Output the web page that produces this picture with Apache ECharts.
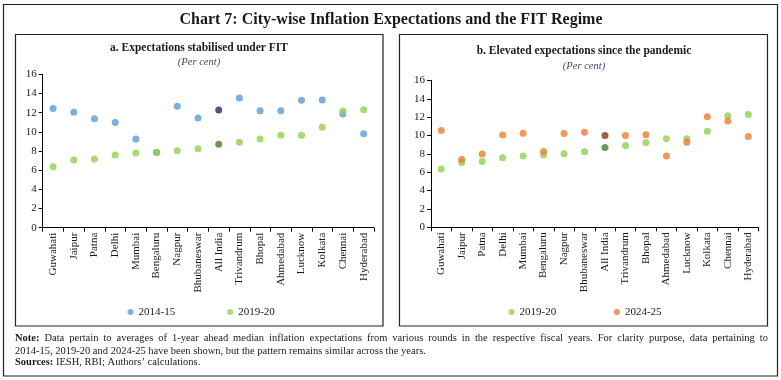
<!DOCTYPE html>
<html><head><meta charset="utf-8">
<script src="https://cdn.jsdelivr.net/npm/echarts@6/dist/echarts.min.js"></script>
<style>html,body{margin:0;padding:0;background:#fff}#c{width:781px;height:380px}</style>
</head><body><div id="c"></div>
<script>
const cities = ['Guwahati','Jaipur','Patna','Delhi','Mumbai','Bengaluru','Nagpur','Bhubaneswar','All India','Trivandrum','Bhopal','Ahmedabad','Lucknow','Kolkata','Chennai','Hyderabad'];
const citiesB = ['Guwahati','Jaipur','Patna','Delhi','Mumbai','Bengaluru','Nagpur','Bhubaneswar','All India','Trivandrum','Bhopal','Ahmedabad','Lucknow','Kolkata','Chennai','Hyderabad'];
const y2014 = [12.42,12.03,11.37,10.96,9.25,7.85,12.66,11.44,12.28,13.53,12.21,12.21,13.29,13.32,11.86,9.81];
const y2019 = [6.35,7.07,7.16,7.57,7.78,7.87,8.02,8.23,8.71,8.92,9.24,9.64,9.65,10.47,12.16,12.29];
const y2024 = [10.56,7.38,8.0,10.05,10.26,8.26,10.23,10.37,10.01,10.01,10.08,7.78,9.28,12.05,11.58,9.9];
const yTicks = [0,2,4,6,8,10,12,14,16];
const labels = {
  title: 'Chart 7: City-wise Inflation Expectations and the FIT Regime',
  a: 'a. Expectations stabilised under FIT',
  b: 'b. Elevated expectations since the pandemic',
  unit: '(Per cent)'
};
const noteLine1 = 'Data pertain to averages of 1-year ahead median inflation expectations from various rounds in the respective fiscal years. For clarity purpose, data pertaining to';
const noteLine2 = '2014-15, 2019-20 and 2024-25 have been shown, but the pattern remains similar across the years.';
const sourcesText = 'IESH, RBI; Authors\u2019 calculations.';

const F = 'Liberation Serif';
const C = {blue:'#5b9bd5', green:'#92d050', orange:'#ed7d31', navy:'#1f2f5a', dgreen:'#4e7d2c', brown:'#843c0c'};

function pts(vals, cats, color, hi) {
  return vals.map((v,i)=> cats[i]==='All India' ? {value:v, itemStyle:{color:hi}} : v);
}
function xAxis(idx, cats){
  return {gridIndex:idx, type:'category', data:cats, boundaryGap:true,
    axisLine:{lineStyle:{color:'#000',width:1}},
    axisTick:{show:true, interval:0, length:4, lineStyle:{color:'#000'}},
    axisLabel:{interval:0, rotate:90, fontFamily:F, fontSize:11, color:'#1a1a1a', margin:5}};
}
function yAxis(idx){
  return {gridIndex:idx, type:'value', min:yTicks[0], max:yTicks[yTicks.length-1], interval:2,
    axisLine:{show:true, lineStyle:{color:'#000'}},
    axisTick:{show:true, length:4, lineStyle:{color:'#000'}},
    splitLine:{show:false},
    axisLabel:{fontFamily:F, fontSize:11, color:'#1a1a1a', margin:6}};
}

// justified first note line
const cv = document.createElement('canvas').getContext('2d');
const noteFont = '10.5px "Liberation Serif"';
const boldFont = 'bold 10.5px "Liberation Serif"';
function justified(prefix, line, x0, x1, y){
  const words = [prefix].concat(line.split(' '));
  const widths = words.map((w,i)=>{cv.font = i===0?boldFont:noteFont; return cv.measureText(w).width;});
  const total = widths.reduce((a,b)=>a+b,0);
  const gap = (x1-x0-total)/(words.length-1);
  const out = []; let x = x0;
  words.forEach((w,i)=>{
    out.push({type:'text', x:x, y:y, silent:true, style:{text:w, font:i===0?boldFont:noteFont, fill:'#1a1a1a', textVerticalAlign:'middle'}});
    x += widths[i] + gap;
  });
  return out;
}

const chart = echarts.init(document.getElementById('c'), null, {renderer:'canvas'});
const sym = 7;
chart.setOption({
  animation:false,
  backgroundColor:'#fff',
  grid:[
    {left:42.7, top:74.3, width:331.3, height:153.4},
    {left:431, top:80.5, width:327.5, height:146.8}
  ],
  xAxis:[xAxis(0,cities), xAxis(1,citiesB)],
  yAxis:[yAxis(0), yAxis(1)],
  legend:[
    {data:['2014-15','2019-20'], left:122.5, top:301.5, icon:'circle', itemWidth:6, itemHeight:6, itemGap:52,
      textStyle:{fontFamily:F, fontSize:11, color:'#1a1a1a'}},
    {data:['2019-20 ','2024-25'], left:503.5, top:301.5, icon:'circle', itemWidth:6, itemHeight:6, itemGap:55,
      textStyle:{fontFamily:F, fontSize:11, color:'#1a1a1a'}}
  ],
  series:[
    {name:'2014-15', type:'scatter', xAxisIndex:0, yAxisIndex:0, symbolSize:sym, color:C.blue, data:pts(y2014,cities,C.blue,C.navy)},
    {name:'2019-20', type:'scatter', xAxisIndex:0, yAxisIndex:0, symbolSize:sym, color:C.green, data:pts(y2019,cities,C.green,C.dgreen)},
    {name:'2019-20 ', type:'scatter', xAxisIndex:1, yAxisIndex:1, symbolSize:sym, color:C.green, data:pts(y2019,citiesB,C.green,C.dgreen)},
    {name:'2024-25', type:'scatter', xAxisIndex:1, yAxisIndex:1, symbolSize:sym, color:C.orange, data:pts(y2024,citiesB,C.orange,C.brown)}
  ],
  graphic:[
    {type:'rect', shape:{x:3.5,y:4.5,width:774,height:371.5}, style:{fill:null, stroke:'#222', lineWidth:1.2}, silent:true},
    {type:'rect', shape:{x:15.5,y:34.5,width:367.5,height:291.5}, style:{fill:null, stroke:'#222', lineWidth:1.2}, silent:true},
    {type:'rect', shape:{x:399.5,y:34.5,width:368,height:291.5}, style:{fill:null, stroke:'#222', lineWidth:1.2}, silent:true},
    {type:'text', x:391, y:20, style:{text:labels.title, font:'bold 16px "Liberation Serif"', fill:'#1a1a1a', textAlign:'center', textVerticalAlign:'middle'}},
    {type:'text', x:199, y:48, style:{text:labels.a, font:'bold 11.5px "Liberation Serif"', fill:'#1a1a1a', textAlign:'center', textVerticalAlign:'middle'}},
    {type:'text', x:199, y:62.5, style:{text:labels.unit, font:'italic 10.5px "Liberation Serif"', fill:'#3b4a6b', textAlign:'center', textVerticalAlign:'middle'}},
    {type:'text', x:584, y:51, style:{text:labels.b, font:'bold 11.5px "Liberation Serif"', fill:'#1a1a1a', textAlign:'center', textVerticalAlign:'middle'}},
    {type:'text', x:584, y:66, style:{text:labels.unit, font:'italic 10.5px "Liberation Serif"', fill:'#3b4a6b', textAlign:'center', textVerticalAlign:'middle'}}
  ].concat(justified('Note:', noteLine1, 15, 768, 338)).concat([
    {type:'text', x:15, y:351, style:{text:noteLine2, font:noteFont, fill:'#1a1a1a', textVerticalAlign:'middle'}},
    {type:'text', x:15, y:362, style:{text:'{b|Sources:} '+sourcesText,
      rich:{b:{font:boldFont, fill:'#1a1a1a'}}, font:noteFont, fill:'#1a1a1a', textVerticalAlign:'middle'}}
  ])
});
</script></body></html>
